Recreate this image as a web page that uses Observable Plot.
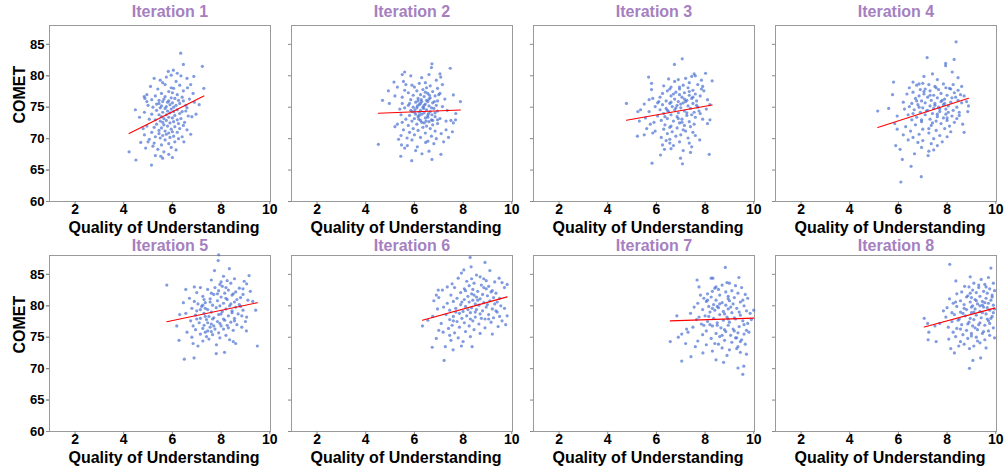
<!DOCTYPE html>
<html>
<head>
<meta charset="utf-8">
<script src="https://cdn.jsdelivr.net/npm/d3@7"></script>
<script src="https://cdn.jsdelivr.net/npm/@observablehq/plot@0.6"></script>
<style>
  html, body { margin: 0; padding: 0; background: #fff; }
  #chart { width: 1006px; height: 473px; }
</style>
</head>
<body>
<div id="chart"></div>
<script>
// ---- Data (Quality of Understanding, COMET) ----
const iterationLabels = ["Iteration 1","Iteration 2","Iteration 3","Iteration 4","Iteration 5","Iteration 6","Iteration 7","Iteration 8"];
const xTicks = [2, 4, 6, 8, 10];
const yTicks = [60, 65, 70, 75, 80, 85];

const iter1 = [[6.34,83.6],[6.45,81.8],[7.23,81.5],[6.04,80.9],[5.83,80.7],[5.25,79.6],[6.88,79.9],[7.29,78.0],[4.84,76.7],[4.87,76.4],[4.48,74.6],[4.22,67.9],[4.5,66.6],[5.14,65.8],[5.52,67.2],[4.7,69.4],[6.47,69.5],[6.75,70.7],[6.97,73.9],[7.1,75.4],
[6.2,80.4],[5.95,80.1],[6.6,79.6],[5.5,79.3],[6.15,79.1],[5.75,79.8],[6.35,80.0],
[5.7,78.6],[6.3,78.5],[5.95,78.1],[6.05,78.0],[6.62,78.1],[5.4,77.9],[6.45,77.6],[5.85,77.5],[6.0,77.3],[6.85,77.2],[5.55,77.2],[4.95,77.0],[6.2,77.0],[5.3,76.8],[5.7,76.7],[6.4,76.6],[6.75,78.6],[5.1,78.3],[5.6,78.9],
[5.95,76.5],[6.1,76.4],[6.7,76.3],[5.15,76.2],[5.45,76.1],[5.6,75.9],[5.8,75.8],[6.0,75.7],[6.3,75.6],[5.35,75.5],[5.9,75.4],[6.15,75.3],[6.55,75.3],[5.55,75.2],[5.75,75.1],[6.05,75.0],[5.2,75.0],[4.95,75.9],[5.0,75.3],[6.45,76.0],[6.9,75.8],[5.65,76.3],[5.85,76.0],[6.25,76.1],[5.45,75.6],[6.6,74.9],
[5.5,74.9],[5.7,74.8],[5.95,74.7],[6.2,74.6],[5.35,74.5],[5.8,74.4],[6.05,74.3],[6.4,74.3],[4.85,74.2],[5.6,74.2],[5.9,74.1],[6.3,74.0],[5.15,73.9],[5.45,73.8],[5.75,73.8],[6.1,73.7],[6.65,73.6],[5.55,73.5],[5.85,73.4],[6.0,73.3],[6.35,73.2],[5.05,73.1],[5.3,73.0],[6.8,73.5],[4.65,73.4],[6.55,74.4],[5.65,73.2],[6.2,73.0],
[5.75,72.9],[5.5,72.8],[6.05,72.7],[5.9,72.5],[6.25,72.4],[5.35,72.3],[5.65,72.2],[6.45,72.1],[4.95,72.0],[5.8,72.0],[6.1,71.9],[5.25,71.8],[5.55,71.7],[6.3,71.6],[5.95,71.5],[6.6,71.4],[5.45,71.3],[5.7,71.2],[6.0,71.1],[5.15,71.0],[5.85,70.9],[6.2,71.0],[4.8,71.6],[6.5,72.6],[5.6,72.6],
[5.45,70.8],[5.75,70.7],[5.6,70.5],[6.05,70.4],[5.3,70.3],[5.9,70.2],[5.5,70.1],[6.25,70.0],[5.05,69.9],[5.7,69.8],[6.4,70.3],[5.0,69.5],[5.25,69.3],[6.1,69.5],[5.85,69.2],[5.55,69.0],[4.85,70.6],
[5.2,68.8],[5.95,68.6],[5.4,68.3],[6.15,68.2],[5.65,67.9],[5.85,67.5],[5.3,67.3],[6.0,67.0],[5.6,66.9],[4.9,68.5]];

const iter2 = [[4.52,69.1],[6.72,81.9],[6.7,81.3],[7.47,81.2],[5.6,80.6],[5.16,79.0],[4.93,77.6],[4.69,76.1],[4.97,75.6],[7.6,76.95],[7.89,75.9],[7.69,73.0],[7.56,71.1],[7.09,67.5],[6.72,66.7],[5.89,66.5],[6.31,67.6],[5.44,67.2],[5.47,69.0],[5.71,68.9],[6.12,68.7],[6.46,69.4],
[7.05,80.3],[6.6,80.2],[5.85,80.0],[6.3,79.7],[7.08,79.8],[6.9,79.3],[5.55,79.1],[6.45,78.9],[6.2,78.8],[7.15,78.6],[5.9,78.5],[6.65,78.4],[6.0,78.2],[6.5,78.1],[5.65,78.6],[6.95,78.0],
[6.35,77.8],[6.1,77.6],[6.75,77.5],[5.75,77.3],[6.55,77.2],[7.05,77.2],[6.25,77.0],[5.95,76.9],[6.85,76.8],[6.4,76.7],[5.5,76.6],[6.65,76.5],[6.15,76.4],[7.25,76.3],[5.85,76.2],[6.5,76.1],[6.95,76.0],[5.6,77.7],[7.0,77.0],
[6.3,75.9],[6.05,75.8],[6.75,75.7],[5.5,75.6],[6.45,75.5],[6.2,75.4],[6.9,75.3],[5.75,75.3],[6.6,75.2],[6.35,75.0],[5.95,75.0],[7.15,75.1],[6.1,74.9],[6.8,74.8],[5.4,74.7],[6.5,74.6],[6.25,74.5],[5.85,74.5],[6.95,74.4],[6.65,74.3],[6.0,74.2],[7.35,74.5],[5.6,74.9],[6.4,74.1],[6.55,75.9],
[5.45,73.8],[6.3,73.9],[5.8,73.7],[6.55,73.7],[6.15,73.5],[6.85,73.5],[6.45,73.3],[6.0,73.2],[7.05,73.2],[5.65,73.1],[6.7,73.0],[6.25,72.9],[5.9,72.8],[6.6,72.7],[7.3,72.8],[5.5,72.6],[6.4,72.5],[6.95,72.4],[6.1,72.3],[6.75,72.2],[5.75,72.1],[6.5,72.0],[7.6,72.5],[5.3,72.3],[6.2,73.7],
[5.2,71.9],[6.35,71.8],[5.95,71.6],[6.65,71.6],[5.55,71.4],[6.15,71.3],[6.85,71.2],[5.8,71.0],[6.45,70.9],[7.1,70.8],[6.0,70.6],[5.45,70.5],[6.7,70.4],[6.25,70.2],[5.7,70.1],[6.9,70.0],[7.3,71.4],
[5.9,69.8],[6.55,69.6],[5.35,69.9],[6.8,69.2],[5.6,68.5],[6.05,68.1],[6.6,68.0],
[6.38,74.8],[6.58,74.0],[6.12,75.2],[6.72,73.8],[6.28,76.2],[6.48,72.8],[6.02,74.6],[6.82,75.9],[6.18,73.1],[6.62,76.9],
[7.4,70.2],[7.2,69.5],[7.5,72.9],[5.3,78.2],[5.5,80.2],[5.2,76.8],[7.7,74.0],
[6.4,75.3],[6.2,74.2],[6.7,74.9],[6.05,73.9],[6.55,73.4],[6.3,72.6],[6.85,74.1],[6.15,76.0],[6.6,76.3],[5.9,74.3],[6.45,77.4],[6.95,73.0],[6.25,75.6],[6.75,72.9],[5.8,75.6]];

const iter3 = [[7.06,82.7],[6.74,81.8],[8.02,80.4],[8.29,79.2],[5.68,79.8],[4.77,75.6],[5.24,74.3],[5.22,70.4],[5.82,66.1],[7.07,66.0],[8.17,67.5],[6.17,67.4],[6.33,68.3],[6.99,66.9],[7.78,69.8],
[7.55,80.3],[7.45,79.9],[7.6,80.0],[6.5,79.5],[7.2,79.6],[6.9,79.4],[6.75,79.1],[7.85,79.3],[5.8,78.8],[7.35,78.9],[6.3,78.4],
[7.1,78.5],[7.7,78.6],[6.6,78.2],[7.3,78.1],[6.95,77.9],[5.8,77.8],[7.5,77.7],[6.45,77.6],[7.95,77.6],[6.8,77.4],[7.15,77.3],[6.25,77.2],[7.6,77.1],[6.95,77.0],[7.35,76.9],[6.6,76.8],[7.8,76.8],[6.15,76.6],[7.05,76.6],[5.85,76.4],[7.45,76.4],[6.75,76.3],[7.25,76.1],[6.4,76.0],[8.1,76.2],[7.65,76.0],[6.9,75.9],[5.7,76.2],[6.55,77.9],[7.9,78.3],
[5.5,75.5],[6.05,75.7],[7.1,75.7],[6.55,75.6],[7.5,75.6],[6.25,75.4],[6.85,75.3],[7.3,75.2],[5.95,75.1],[6.65,75.1],[7.7,75.0],[7.0,74.9],[6.4,74.8],[7.4,74.8],[6.15,74.6],[6.75,74.6],[8.05,74.7],[7.15,74.4],[5.7,74.3],[6.5,74.3],[7.55,74.2],[6.9,74.1],[6.3,74.0],[7.8,74.0],[5.35,74.6],[8.2,75.4],[7.2,75.9],
[6.6,73.8],[7.25,73.7],[6.05,73.6],[6.85,73.5],[7.6,73.4],[5.55,73.3],[6.45,73.2],[7.05,73.1],[7.9,73.1],[6.2,72.9],[6.7,72.8],[7.35,72.7],[5.9,72.6],[6.95,72.5],[7.55,72.3],[6.35,72.2],[8.1,72.4],[5.3,72.8],[7.15,72.1],[6.6,72.0],[5.75,72.3],[8.2,73.0],
[7.4,71.9],[6.85,71.7],[5.6,71.6],[6.3,71.5],[7.1,71.4],[5.95,71.2],[6.65,71.1],[7.5,71.0],[6.45,70.8],[7.0,70.6],[5.5,70.6],[6.8,70.4],[6.2,70.2],[7.3,70.1],[5.85,70.9],[6.55,69.9],[7.6,70.5],
[6.4,69.7],[6.95,69.5],[7.35,69.3],[6.25,69.0],[6.7,68.9],[7.45,68.7],[6.6,68.4],[7.1,68.1],[7.4,67.8],[6.55,69.3],
[7.0,75.5],[6.8,74.9],[7.25,74.1],[6.6,75.8],[7.45,73.8],[6.9,73.2],[7.15,76.3],[6.45,74.5],[7.65,75.3],[6.7,77.1],[7.35,77.5],[6.35,73.5],[7.75,74.4],[7.05,72.6],[6.55,71.8],[7.5,76.6],[6.95,78.2],[7.2,71.2],[6.1,75.9],[7.85,77.9]];

const iter4 = [[8.37,85.4],[7.18,82.9],[7.94,81.96],[7.94,81.6],[8.29,82.6],[8.21,80.6],[7.4,80.3],[5.15,74.4],[5.8,79.0],[5.76,77.0],[5.85,72.4],[5.89,68.9],[6.07,68.3],[6.16,66.7],[6.52,65.6],[6.1,63.1],[6.94,63.95],[6.66,67.6],[7.22,67.3],[8.64,72.3],[8.85,74.3],[8.88,75.2],
[6.85,78.7],[7.0,78.8],[6.75,78.5],[7.25,78.6],[7.85,78.7],[8.25,78.6],[7.5,78.3],[6.45,78.1],[7.95,78.1],[7.1,77.9],[8.1,78.0],[6.9,77.8],[7.65,77.8],[8.45,77.7],[7.3,77.6],[6.6,77.4],[8.3,77.3],[7.75,77.2],[7.05,77.1],[8.55,77.0],[6.35,77.1],[7.45,76.9],[8.0,76.9],[8.7,76.8],[6.85,76.8],
[7.2,76.6],[7.6,76.5],[8.2,76.5],[6.7,76.4],[7.9,76.3],[7.35,76.1],[8.45,76.1],[6.95,76.0],[7.75,75.9],[8.15,75.8],[7.1,75.7],[6.55,75.6],[7.5,75.6],[8.6,75.7],[7.85,75.4],[6.8,75.4],[7.3,75.2],[8.05,75.2],[6.45,75.1],[7.65,75.0],[8.4,75.0],[7.0,74.9],[6.2,75.8],[8.8,75.9],
[7.45,74.8],[7.95,74.7],[6.65,74.6],[7.2,74.5],[8.25,74.5],[7.7,74.3],[6.9,74.2],[8.5,74.2],[7.4,74.0],[7.95,73.9],[6.4,73.8],[7.1,73.8],[8.2,73.6],[7.6,73.5],[6.75,73.4],[7.85,73.3],[8.4,73.2],[7.3,73.1],[6.55,73.0],[8.0,72.9],[7.55,72.8],[6.95,72.7],[8.3,72.6],[6.25,74.7],[5.95,73.6],
[7.75,72.4],[6.7,72.2],[7.35,72.1],[8.1,72.0],[6.3,71.9],[7.9,71.6],[7.0,71.5],[7.55,71.3],[6.5,71.2],[8.15,71.1],[7.25,70.9],[6.85,70.7],[7.7,70.5],[6.6,70.2],[7.45,70.0],[8.0,70.3],[6.2,70.6],[5.95,71.5],
[7.0,69.7],[6.8,69.4],[7.35,69.2],[7.6,68.9],[6.95,68.6],[7.45,68.2],[7.25,68.0],[6.4,69.8],[7.8,69.5],
[7.6,79.4],[8.45,79.7],[7.05,79.9],[8.6,78.3],[6.6,79.0],[5.6,74.8],[8.7,71.0],
[7.5,75.3],[7.15,74.4],[7.8,76.1],[6.85,75.0],[7.3,76.9],[8.05,74.2],[7.6,73.9],[6.95,73.0],[8.35,76.6],[7.05,77.5],[7.7,74.7],[6.6,74.0],[8.15,77.9],[7.4,72.5],[7.9,75.6],[6.75,76.0],[8.5,73.7],[7.25,71.6],[7.55,78.1],[8.0,73.3]];

const iter5 = [[5.77,83.3],[6.55,82.6],[7.9,88.1],[7.88,87.2],[7.73,85.6],[8.34,85.9],[9.15,84.8],[9.05,83.5],[9.49,73.6],[6.49,71.5],[6.89,71.7],[6.18,76.8],[6.27,74.5],[6.85,74.0],[7.81,73.8],[7.8,72.4],[8.14,72.6],[8.6,74.0],[9.04,76.0],[9.42,79.3],
[8.1,84.7],[8.55,84.3],[7.6,84.1],[8.25,84.0],[8.95,83.9],[7.95,83.4],[8.4,83.6],[8.05,83.1],[7.15,82.9],[8.75,82.8],[7.45,82.6],[8.3,82.5],[7.9,82.4],[8.6,82.2],[7.0,82.1],[8.15,82.0],[6.9,83.0],[8.9,82.7],
[7.7,81.8],[8.45,81.7],[7.25,81.5],[8.0,81.4],[8.8,81.3],[6.7,81.2],[7.55,81.1],[8.25,81.0],[9.1,80.9],[7.85,80.8],[6.9,80.7],[8.55,80.6],[7.35,80.5],[8.1,80.4],[7.05,80.3],[8.75,80.2],[7.65,80.1],[6.45,80.5],[9.3,80.7],[8.35,80.0],[7.95,80.0],
[7.2,79.9],[8.6,79.8],[7.8,79.7],[6.8,79.6],[8.2,79.5],[7.45,79.4],[8.9,79.3],[7.0,79.2],[8.05,79.1],[7.6,79.0],[8.45,78.9],[6.55,78.8],[7.3,78.8],[8.7,78.7],[7.9,78.6],[6.95,78.5],[8.3,78.4],[7.5,78.3],[6.3,78.6],[7.7,78.1],[8.55,78.0],[7.15,78.0],[9.05,78.2],
[8.1,77.9],[7.4,77.8],[6.75,77.6],[7.85,77.5],[8.4,77.4],[7.1,77.3],[7.6,77.1],[8.65,77.0],[7.3,76.9],[6.85,76.8],[8.0,76.8],[7.55,76.6],[8.3,76.5],[7.25,76.4],[7.75,76.3],[6.95,76.2],[8.5,76.1],[7.45,76.0],[8.85,76.6],[9.0,77.5],
[7.35,75.8],[7.9,75.7],[7.15,75.5],[7.65,75.4],[8.2,75.3],[7.4,75.1],[6.8,75.0],[7.95,74.9],[7.5,74.7],[8.35,74.6],[7.25,74.4],[8.5,74.3],[7.05,73.6],[6.6,75.8],
[7.75,82.9],[8.2,81.2],[7.35,79.6],[8.15,77.7],[7.65,77.9],[7.6,82.0],[8.0,83.8],[8.5,81.9],[7.3,81.0],
[7.55,80.6],[8.4,80.3],[7.15,79.4],[8.0,78.7],[8.8,79.9],[7.45,77.3],[8.25,76.9],[7.85,81.9],[8.65,81.0],[7.25,80.1],[7.7,76.8],[8.45,79.2],[7.95,77.2],[7.35,78.3],[8.2,82.9],[8.85,78.4],[7.6,75.9],[8.1,76.3],[7.0,77.9],[8.55,77.6],
[8.9,81.8],[9.2,82.3]];

const iter6 = [[8.29,87.7],[8.9,86.9],[8.33,86.2],[8.03,85.7],[7.93,85.2],[9.1,85.6],[9.81,83.4],[9.48,84.4],[6.33,76.8],[6.73,73.4],[7.27,73.5],[7.59,73.0],[7.22,71.3],[7.93,73.6],[8.37,73.5],[7.18,75.8],[6.98,82.5],[9.81,78.4],[9.44,76.7],
[8.55,84.9],[8.7,84.6],[8.85,84.3],[7.8,84.4],[8.95,84.0],[8.15,83.9],[9.3,83.8],[8.45,83.6],[7.55,83.5],[8.75,83.3],[9.6,83.7],[8.25,83.2],[9.05,83.1],[7.35,83.0],[7.65,82.9],[8.95,82.7],[8.4,82.6],[9.7,82.9],
[7.15,82.5],[8.1,82.4],[9.2,82.4],[8.6,82.3],[7.9,82.1],[9.35,82.0],[8.35,81.9],[8.8,81.8],[7.5,81.7],[9.0,81.6],[8.2,81.5],[8.55,81.4],[7.0,81.3],[9.25,81.3],[7.75,81.2],[8.7,81.1],[8.05,81.0],[9.5,81.2],[8.4,80.9],[6.9,81.7],
[9.1,80.8],[7.6,80.7],[8.25,80.6],[8.85,80.5],[7.35,80.4],[8.5,80.3],[9.3,80.3],[7.9,80.2],[8.65,80.1],[9.55,80.0],[8.1,79.9],[7.2,79.8],[8.95,79.8],[8.35,79.7],[7.7,79.6],[9.2,79.5],[8.55,79.4],[7.45,79.3],[8.8,79.2],[9.7,79.6],[8.0,79.1],[6.95,79.5],[9.4,79.0],
[8.3,78.9],[7.85,78.8],[8.7,78.7],[7.3,78.6],[9.05,78.6],[8.15,78.4],[7.6,78.3],[8.5,78.2],[9.25,78.1],[7.95,78.0],[6.75,78.3],[8.9,77.9],[7.45,77.8],[8.4,77.6],[7.75,77.5],[9.15,77.4],[8.05,77.3],[7.1,77.2],[8.65,77.1],[9.6,77.6],[6.55,77.7],[7.55,76.9],
[8.25,76.8],[7.85,76.6],[8.9,76.5],[7.4,76.4],[8.45,76.2],[7.0,76.1],[8.1,75.9],[7.65,75.7],[8.7,75.6],[7.45,75.3],[8.3,75.1],[7.8,74.9],[7.5,74.5],[8.0,74.3],[9.2,75.5],[6.9,74.8],
[8.6,80.9],[9.0,80.2],[8.2,79.4],[8.75,78.0],[9.35,79.2],[8.45,81.7],[7.95,80.6],[9.15,82.2],[8.3,77.9],[8.85,82.9],[7.7,79.0],[9.4,80.6],[8.05,82.7],[8.5,79.0],[9.05,77.9],[7.6,77.6],[8.35,84.3],[9.5,78.3],[6.8,80.8],[9.75,77.0]];

const iter7 = [[8.83,86.1],[7.67,84.1],[8.32,84.4],[8.25,84.4],[8.9,83.7],[9.39,84.5],[7.81,81.7],[6.84,78.4],[6.57,74.3],[7.04,75.5],[7.24,76.3],[7.04,71.2],[7.42,71.9],[7.91,72.5],[8.45,71.4],[8.76,71.0],[9.35,70.1],[9.55,69.1],[9.59,70.4],[10.0,79.3],
[9.0,83.6],[8.7,83.3],[9.25,83.2],[8.45,83.0],[7.75,83.0],[9.5,82.9],[8.55,82.6],[9.1,82.4],[8.3,82.3],[8.85,82.2],[9.35,82.0],[8.1,81.9],[8.6,81.7],[9.65,81.8],[8.95,81.5],[8.25,81.4],[9.2,81.3],[7.95,81.2],[9.75,81.2],
[8.45,80.9],[9.0,80.8],[8.05,80.7],[9.45,80.6],[8.7,80.5],[7.7,80.4],[9.15,80.3],[8.35,80.2],[8.85,80.1],[9.6,80.0],[8.15,79.9],[7.55,79.8],[8.55,79.7],[9.3,79.6],[8.95,79.5],[7.9,79.4],[8.4,79.3],[9.7,79.2],[8.75,79.1],[8.2,79.0],[9.1,78.9],[7.4,78.8],[8.6,78.6],[9.45,78.5],[8.0,78.4],[9.85,78.8],[7.75,78.2],
[8.9,78.2],[8.35,78.0],[9.25,77.9],[7.65,77.8],[8.75,77.7],[9.55,77.6],[8.1,77.5],[9.0,77.4],[8.5,77.3],[9.75,77.2],[7.85,77.1],[8.95,76.9],[8.3,76.8],[9.4,76.7],[7.5,76.6],[8.65,76.5],[9.15,76.3],[9.7,76.1],[8.05,76.0],[8.85,75.9],[9.35,75.7],[8.45,75.6],[9.6,75.5],[7.9,75.4],[9.05,75.3],[7.3,75.8],[9.9,77.8],
[8.6,75.1],[9.25,74.9],[8.25,74.8],[9.5,74.6],[8.8,74.5],[7.7,74.4],[9.1,74.2],[8.4,74.0],[9.65,73.9],[8.05,73.8],[9.35,73.5],[8.7,73.3],[9.0,73.0],[7.6,73.5],[9.45,72.6],[8.3,72.8],[9.7,72.3],[8.9,72.1],
[8.5,79.9],[9.2,78.1],[8.8,76.2],[9.3,74.9],[8.2,77.0],
[8.6,80.3],[9.05,79.8],[8.3,79.6],[9.4,79.0],[8.8,78.7],[9.55,80.9],[8.15,78.3],[8.95,77.9],[9.6,77.0],[8.5,76.9],[9.2,76.0],[8.7,75.3],[9.45,74.3],[8.1,80.9],[9.8,75.8],[8.4,82.8],[8.95,81.1],[7.95,76.9],[9.3,73.2],[8.55,73.9],
[6.9,75.0],[7.2,74.0]];

const iter8 = [[8.11,86.6],[9.8,86.0],[8.95,84.6],[8.36,83.96],[8.72,83.1],[7.06,78.0],[7.2,77.2],[7.25,75.8],[7.22,74.6],[7.55,74.3],[8.07,74.7],[8.3,72.5],[8.48,73.6],[8.92,73.2],[9.06,71.3],[8.92,70.05],[9.38,71.7],
[9.4,84.2],[9.7,84.5],[9.1,83.6],[9.55,83.4],[9.9,83.6],[8.9,83.0],[9.3,82.9],[9.75,82.7],[9.05,82.5],[9.5,82.3],[9.95,82.4],[8.6,82.2],[9.2,82.1],[9.65,82.0],[8.4,81.9],[9.85,81.7],
[8.85,81.6],[9.35,81.5],[9.0,81.3],[9.6,81.2],[8.1,81.1],[9.15,81.0],[9.8,80.9],[8.55,80.8],[9.45,80.7],[8.95,80.6],[9.7,80.4],[8.25,80.4],[9.25,80.3],[8.7,80.2],[9.9,80.1],[9.05,80.0],[8.4,79.9],[9.5,79.8],[8.0,79.7],[9.15,79.5],[8.8,79.4],[9.75,79.3],[9.35,79.1],[8.55,79.0],[7.85,79.2],[9.95,79.5],
[9.0,78.9],[9.6,78.7],[8.3,78.6],[9.2,78.5],[8.75,78.4],[9.85,78.3],[7.95,78.2],[9.4,78.1],[8.5,77.9],[9.1,77.8],[9.7,77.6],[8.2,77.5],[8.9,77.4],[9.35,77.3],[7.7,77.2],[8.6,77.0],[9.55,76.9],[9.05,76.8],[8.05,76.6],[9.9,76.5],[8.4,76.4],[9.25,76.2],[8.8,76.1],[7.5,76.8],[9.65,77.9],
[9.5,75.9],[8.25,75.8],[9.0,75.6],[8.65,75.4],[9.75,75.3],[8.35,75.1],[9.2,75.0],[8.85,74.8],[9.55,74.6],[8.55,74.3],[9.35,74.1],[8.7,73.9],[9.1,73.6],[9.95,74.9],[8.15,73.2],[9.6,73.3],
[9.3,83.3],[8.8,81.4],[9.45,80.1],[8.65,78.8],[9.15,76.5],[9.8,78.0],[9.0,79.8],[8.45,77.7],[9.3,77.0],[9.7,76.0],
[9.2,80.8],[8.7,79.6],[9.55,80.5],[9.85,81.4],[9.1,79.0],[8.95,78.0],[9.45,78.9],[8.35,80.6],[9.65,79.7],[9.35,80.0],[8.85,77.1],[9.75,77.2],[9.0,75.2],[8.55,76.3],[9.45,75.6],[9.9,78.9],[8.95,82.0],[9.6,83.0],[8.2,78.9],[9.25,74.4]];

const iterations = [iter1, iter2, iter3, iter4, iter5, iter6, iter7, iter8];

// ---- Build tables for Plot ----
const panels = iterationLabels.map((label, i) => ({label, col: i % 4, row: Math.floor(i / 4)}));
const points = iterations.flatMap((pts, i) =>
  pts.map(([q, c]) => ({q, c, col: i % 4, row: Math.floor(i / 4)})));

const FONT = "'Liberation Sans', Arial, Helvetica, sans-serif";
const TITLE_COLOR = "#a67fc1";

const chart = Plot.plot({
  width: 1006,
  height: 473,
  marginLeft: 48,
  marginRight: 8,
  marginTop: 25,
  marginBottom: 42,
  style: {fontFamily: FONT, background: "#fff", color: "#000"},
  fx: {domain: [0, 1, 2, 3], paddingInner: 0.0865, paddingOuter: 0, axis: null, label: null},
  fy: {domain: [0, 1], paddingInner: 0.235, paddingOuter: 0, axis: null, label: null},
  x: {domain: [0.95, 10.03], label: null},
  y: {domain: [60, 88], label: null},
  marks: [
    Plot.frame({stroke: "#9a9a9a", strokeWidth: 1}),
    Plot.dot(points, {x: "q", y: "c", fx: "col", fy: "row", r: 1.6, fill: "#4a70d2", fillOpacity: 0.7, stroke: null}),
    Plot.linearRegressionY(points, {x: "q", y: "c", fx: "col", fy: "row", stroke: "#ff0000", strokeWidth: 1.1, ci: 0}),
    Plot.axisX({ticks: xTicks, tickSize: 3, tickPadding: 0, facetAnchor: null, label: null, stroke: "#888", fill: "#000", fontSize: 14, fontWeight: "bold"}),
    Plot.axisY({ticks: yTicks, tickSize: 3, tickPadding: 2, facetAnchor: "left", label: null, stroke: "#888", fill: "#000", fontSize: 13, fontWeight: "bold"}),
    Plot.axisY({ticks: yTicks, tickSize: 3, facetAnchor: null, label: null, stroke: "#888", fill: "none"}),
    Plot.text(panels.filter(d => d.row === 0), {fx: "col", fy: "row", text: "label", frameAnchor: "top", lineAnchor: "middle", dy: -14, dx: 10, fill: TITLE_COLOR, fontSize: 16, fontWeight: "bold"}),
    Plot.text(panels.filter(d => d.row === 1), {fx: "col", fy: "row", text: "label", frameAnchor: "top", lineAnchor: "middle", dy: -9.5, dx: 10, fill: TITLE_COLOR, fontSize: 16, fontWeight: "bold"}),
    Plot.text(panels, {fx: "col", fy: "row", text: () => "Quality of Understanding", frameAnchor: "bottom", lineAnchor: "middle", dy: 26, dx: 4, fill: "#000", fontSize: 16, fontWeight: "bold"}),
    Plot.text(panels.filter(d => d.col === 0), {fx: "col", fy: "row", text: () => "COMET", frameAnchor: "left", rotate: -90, lineAnchor: "middle", dx: -30, dy: 10, fill: "#000", fontSize: 16, fontWeight: "bold"})
  ]
});

document.getElementById("chart").appendChild(chart);
</script>
</body>
</html>
